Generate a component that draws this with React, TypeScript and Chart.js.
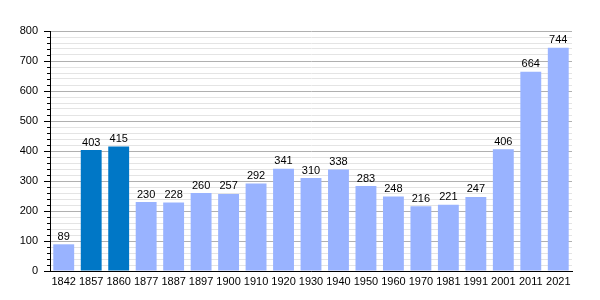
import React, { useEffect, useRef } from "react";
import { Chart, registerables } from "chart.js";

Chart.register(...registerables);

const years = ["1842","1857","1860","1877","1887","1897","1900","1910","1920","1930","1940","1950","1960","1970","1981","1991","2001","2011","2021"];
const population = [89,403,415,230,228,260,257,292,341,310,338,283,248,216,221,247,406,664,744];
const highlighted = ["1857","1860"];
const yTickStep = 20;
const yMax = 800;

const lightBlue = "#99b3ff";
const darkBlue = "#0077c6";

const FONT = "'Liberation Sans', Arial, sans-serif";

const valueLabels = {
  id: "valueLabels",
  afterDatasetsDraw(chart: any) {
    const ctx = chart.ctx;
    const meta = chart.getDatasetMeta(0);
    ctx.save();
    ctx.font = `11px ${FONT}`;
    ctx.fillStyle = "#000";
    ctx.textAlign = "center";
    ctx.textBaseline = "bottom";
    meta.data.forEach((bar: any, i: number) => {
      ctx.fillText(String(population[i]), bar.x, bar.y - 2);
    });
    ctx.restore();
  },
};

const axisTicks = {
  id: "axisTicks",
  afterDraw(chart: any) {
    const ctx = chart.ctx;
    const y = chart.scales.y;
    const x0 = chart.chartArea.left;
    ctx.save();
    ctx.strokeStyle = "#000";
    ctx.lineWidth = 1;
    for (let v = 0; v <= yMax; v += yTickStep) {
      const py = Math.round(y.getPixelForValue(v)) + 0.5;
      const len = v % 100 === 0 ? 6 : 3;
      ctx.beginPath();
      ctx.moveTo(x0 - len, py);
      ctx.lineTo(x0, py);
      ctx.stroke();
    }
    ctx.restore();
  },
};

export default function App() {
  const ref = useRef<HTMLCanvasElement>(null);
  useEffect(() => {
    if (!ref.current) return;
    const chart = new Chart(ref.current, {
      type: "bar",
      data: {
        labels: years,
        datasets: [
          {
            data: population,
            backgroundColor: years.map((y) => (highlighted.includes(y) ? darkBlue : lightBlue)),
            categoryPercentage: 1,
            barPercentage: 0.76,
          },
        ],
      },
      options: {
        animation: false,
        responsive: false,
        maintainAspectRatio: false,
        layout: { padding: { top: 31, right: 28, left: 0, bottom: 0 } },
        plugins: { legend: { display: false }, tooltip: { enabled: false } },
        scales: {
          x: {
            grid: { display: false, drawTicks: false },
            border: { color: "#000", width: 1 },
            ticks: { color: "#000", font: { family: FONT, size: 11 }, padding: 4, autoSkip: false, maxRotation: 0 },
            afterFit: (s: any) => { s.height = 29; },
          },
          y: {
            min: 0,
            max: yMax,
            grid: {
              drawTicks: false,
              color: (c: any) => (c.tick && c.tick.value % 100 === 0 ? "#b0b0b0" : "#e4e4e4"),
            },
            border: { color: "#000", width: 1 },
            ticks: {
              stepSize: yTickStep,
              autoSkip: false,
              color: "#000",
              font: { family: FONT, size: 11 },
              padding: 12,
              callback: (v: any) => (Number(v) % 100 === 0 ? String(v) : ""),
            },
            afterFit: (s: any) => { s.width = 50; },
          },
        },
      },
      plugins: [valueLabels, axisTicks],
    });
    return () => chart.destroy();
  }, []);
  return (
    <div style={{ position: "fixed", left: 0, top: 0, width: 600, height: 300, background: "#fff" }}>
      <canvas ref={ref} width={600} height={300} style={{ display: "block" }} />
    </div>
  );
}
